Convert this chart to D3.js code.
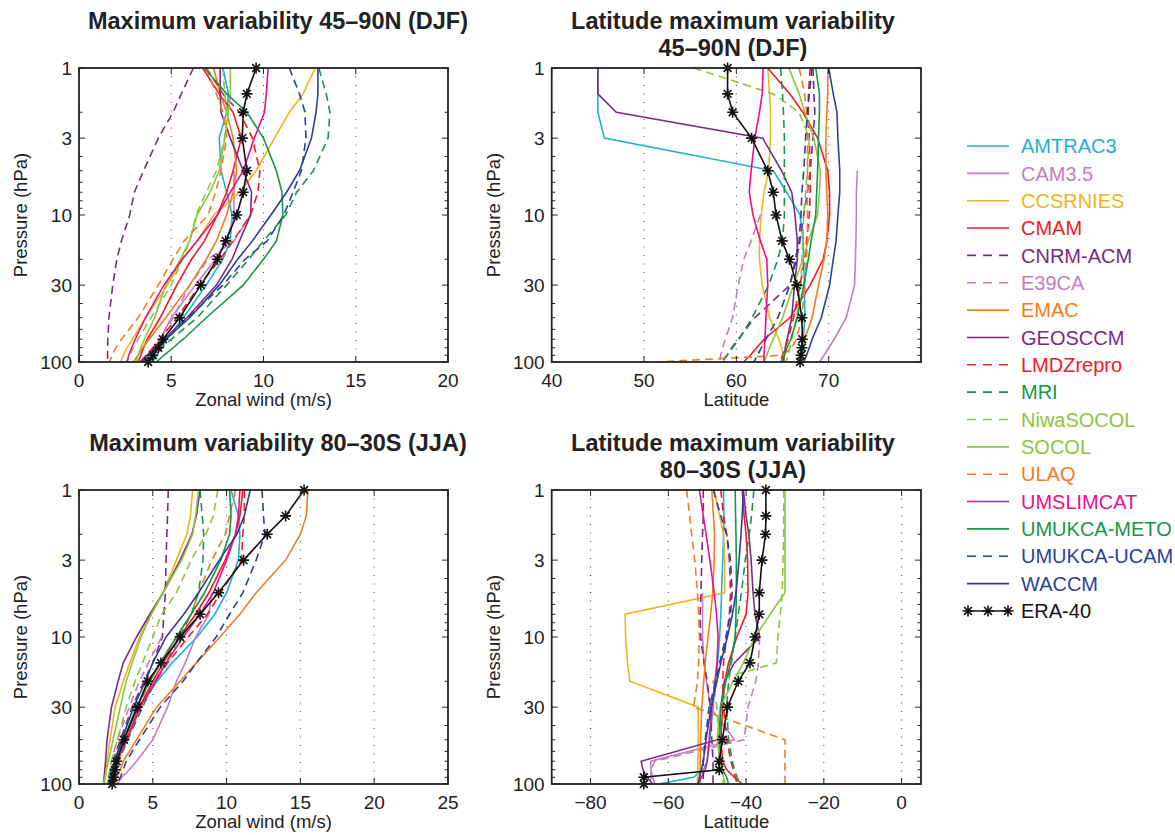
<!DOCTYPE html>
<html>
<head>
<meta charset="utf-8">
<script src="https://cdn.jsdelivr.net/npm/d3@7"></script>
<style>
  body { margin: 0; background: #fff; }
  text { font-family: "Liberation Sans", Arial, Helvetica, sans-serif; }
</style>
</head>
<body>
<svg></svg>
<script>
  // pressure levels (hPa), shared by every profile
  var levels = [1, 1.5, 2, 3, 5, 7, 10, 15, 20, 30, 50, 70, 80, 90, 100];

  var models = ['AMTRAC3', 'CAM3.5', 'CCSRNIES', 'CMAM', 'CNRM-ACM', 'E39CA', 'EMAC', 'GEOSCCM',
    'LMDZrepro', 'MRI', 'NiwaSOCOL', 'SOCOL', 'ULAQ', 'UMSLIMCAT', 'UMUKCA-METO', 'UMUKCA-UCAM', 'WACCM'];
  var modelColors = ['#1eb1d4', '#c57dbf', '#edb520', '#ed1c24', '#7b2a84', '#c57dbf', '#f47c20', '#7b2a84',
    '#ed1c24', '#17964a', '#8cc63e', '#8cc63e', '#f47c20', '#ec0f8c', '#17964a', '#2d3f98', '#2d3f98'];
  var modelDashed = [false, false, false, false, true, true, false, false,
    true, true, true, false, true, false, false, true, false];

  // max variability 45-90N (DJF), zonal wind m/s
  var windNH = {
    'AMTRAC3':     [7.8, 8.1, 8.0, 7.6, 7.7, 8.0, 8.3, 8.2, 7.8, 6.9, 5.65, 4.75, 4.45, 4.2, 4.0],
    'CAM3.5':      [null, null, null, null, 8.4, 8.4, 8.4, 8.0, 7.4, 6.3, 5.0, 4.4, 4.1, 3.9, 3.7],
    'CCSRNIES':    [12.8, 12.15, 11.4, 10.6, 9.6, 8.7, 7.3, 6.4, 5.6, 4.8, 3.6, 2.9, 2.6, 2.4, 2.25],
    'CMAM':        [6.7, 7.6, 8.35, 8.8, 8.35, 8.0, 7.5, 6.8, 6.1, 5.3, 4.4, 3.7, 3.5, 3.35, 3.2],
    'CNRM-ACM':    [6.2, 5.55, 5.1, 4.3, 3.5, 3.0, 2.75, 2.3, 2.05, 1.83, 1.62, 1.56, 1.55, 1.55, 1.55],
    'E39CA':       [null, null, null, null, null, null, 9.3, 8.4, 7.0, 6.0, 5.1, 4.4, 4.1, 3.9, 3.7],
    'EMAC':        [7.3, 7.65, 8.0, 8.35, 8.55, 8.35, 8.0, 7.45, 6.9, 6.0, 4.7, 3.8, 3.45, 3.2, 2.95],
    'GEOSCCM':     [7.65, 7.65, 7.7, 8.2, 8.9, 9.35, 9.3, 8.7, 8.3, 7.45, 5.85, 4.6, 4.1, 3.7, 3.3],
    'LMDZrepro':   [6.9, 7.8, 8.7, 9.4, 9.8, 9.7, 9.3, 8.35, 7.65, 6.55, 5.3, 4.4, 4.0, 3.65, 3.3],
    'MRI':         [13.0, 13.4, 13.6, 13.5, 12.7, 11.8, 11.2, 10.0, 9.2, 8.0, 6.4, 5.0, 4.5, 4.2, 3.9],
    'NiwaSOCOL':   [7.8, 7.9, 8.0, 7.9, 7.45, 6.9, 6.35, 6.0, 5.6, 5.0, 3.9, 3.2, 2.95, 2.75, 2.6],
    'SOCOL':       [8.2, 8.2, 8.1, 7.9, 7.6, 7.1, 6.4, 6.0, 5.5, 4.7, 4.1, 3.55, 3.35, 3.2, 3.1],
    'ULAQ':        [6.9, 7.45, 7.8, 8.0, 7.7, 7.4, 7.0, 5.7, 5.1, 4.3, 3.2, 2.3, 2.0, 1.8, 1.65],
    'UMSLIMCAT':   [10.25, 10.15, 10.05, 9.5, 8.9, 8.2, 7.5, 6.4, 5.6, 4.6, 3.6, 3.05, 2.85, 2.7, 2.6],
    'UMUKCA-METO': [6.8, 8.0, 9.1, 10.0, 10.7, 11.0, 11.05, 10.7, 10.0, 8.9, 6.9, 5.65, 5.1, 4.6, 4.2],
    'UMUKCA-UCAM': [11.4, 11.95, 12.25, 12.3, 12.05, 11.6, 11.1, 10.2, 9.0, 7.8, 5.9, 4.75, 4.25, 3.85, 3.5],
    'WACCM':       [12.95, 12.95, 12.85, 12.6, 11.95, 11.25, 10.4, 9.4, 8.6, 7.6, 6.0, 4.7, 4.2, 3.7, 3.4]
  };
  var eraWindNH = [9.6, 9.1, 8.9, 8.85, 9.1, 8.9, 8.55, 7.95, 7.5, 6.6, 5.45, 4.55, 4.3, 4.0, 3.75];

  // latitude of max variability 45-90N (DJF)
  var latNH = {
    'AMTRAC3':     [45.0, 45.0, 45.0, 45.7, 64.0, 65.45, 66.9, 67.25, 67.25, 67.4, 67.4, 67.25, 67.1, 67.0, 66.9],
    'CAM3.5':      [null, null, null, null, 73.1, 73.0, 73.0, 72.95, 72.9, 72.8, 71.9, 70.6, 70.0, 69.5, 69.0],
    'CCSRNIES':    [63.4, 63.6, 63.7, 63.7, 63.5, 63.0, 62.7, 62.5, 62.5, 62.8, 63.6, 64.6, 64.9, 65.1, 65.2],
    'CMAM':        [63.4, 65.8, 67.2, 68.8, 69.9, 70.1, 70.1, 69.8, 69.4, 68.0, 65.8, 63.0, 62.2, 61.5, 60.8],
    'CNRM-ACM':    [68.3, 68.4, 68.5, 68.3, 68.0, 67.7, 67.3, 66.9, 66.5, 65.8, 62.0, 60.2, 59.5, 59.0, 58.5],
    'E39CA':       [null, null, null, null, null, null, 62.6, 61.6, 60.8, 60.2, 59.6, 58.8, 58.5, 58.3, 58.2],
    'EMAC':        [69.9, 69.9, 69.8, 69.7, 69.7, 69.8, 69.9, 69.8, 69.5, 68.9, 68.2, 67.4, 67.2, 67.0, 66.8],
    'GEOSCCM':     [45.0, 45.0, 47.0, 62.85, 64.9, 66.0, 66.35, 66.6, 66.6, 66.3, 66.0, 65.5, 65.3, 65.2, 65.1],
    'LMDZrepro':   [68.0, 67.8, 67.8, 67.9, 68.0, 68.0, 67.9, 67.6, 67.4, 66.9, 66.2, 65.6, 65.3, 65.0, 64.7],
    'MRI':         [64.8, 65.0, 65.1, 65.2, 65.2, 65.2, 65.2, 65.0, 64.5, 63.5, 61.7, 60.3, 59.6, 59.0, 58.3],
    'NiwaSOCOL':   [55.4, 64.0, 66.8, 67.9, 67.7, 67.5, 67.3, 67.2, 67.1, 67.0, 66.5, 66.0, 65.8, 65.6, 65.4],
    'SOCOL':       [65.7, 66.8, 67.4, 68.4, 69.1, 69.0, 68.8, 67.8, 67.2, 66.2, 65.0, 64.0, 63.6, 63.3, 63.0],
    'ULAQ':        [66.8, 67.4, 67.6, 67.7, 67.7, 67.7, 67.7, 67.7, 67.6, 67.4, 67.1, 66.5, 66.0, 65.0, 51.5],
    'UMSLIMCAT':   [62.9, 62.8, 62.5, 62.0, 61.6, 61.4, 61.8, 62.6, 63.3, 63.4, 63.2, 63.1, 63.05, 63.0, 63.0],
    'UMUKCA-METO': [68.6, 69.0, 69.0, 68.9, 68.8, 68.7, 68.6, 68.1, 67.8, 67.3, 66.6, 65.9, 65.5, 65.2, 64.8],
    'UMUKCA-UCAM': [68.2, 67.9, 67.7, 67.5, 67.3, 67.1, 67.0, 66.8, 66.4, 65.8, 64.5, 63.2, 62.7, 62.3, 61.9],
    'WACCM':       [70.0, 70.5, 70.9, 71.0, 71.2, 71.2, 71.0, 70.8, 70.5, 70.1, 69.2, 68.2, 67.9, 67.6, 67.3]
  };
  var eraLatNH = [59.05, 59.05, 59.6, 61.65, 63.4, 64.0, 64.3, 64.95, 65.75, 66.55, 67.1, 67.15, 67.1, 67.0, 66.9];

  // max variability 80-30S (JJA), zonal wind m/s
  var windSH = {
    'AMTRAC3':     [10.3, 10.8, 10.9, 10.8, 10.0, 9.2, 8.0, 6.3, 5.3, 4.0, 3.0, 2.45, 2.3, 2.2, 2.1],
    'CAM3.5':      [null, null, null, null, 9.0, 8.8, 7.9, 7.2, 6.6, 6.0, 5.0, 3.9, 3.4, 2.9, 2.6],
    'CCSRNIES':    [7.7, 7.55, 7.3, 6.6, 5.7, 4.9, 4.1, 3.45, 3.0, 2.45, 2.1, 1.9, 1.85, 1.8, 1.7],
    'CMAM':        [11.1, 10.9, 10.6, 9.9, 8.8, 7.9, 6.8, 5.7, 5.0, 4.1, 3.2, 2.6, 2.5, 2.4, 2.3],
    'CNRM-ACM':    [6.05, 6.0, 5.95, 5.9, 5.85, 5.75, 5.65, 5.0, 4.4, 3.6, 2.8, 2.3, 2.2, 2.1, 2.0],
    'E39CA':       [null, null, null, null, null, null, 5.6, 4.7, 4.1, 3.4, 2.6, 2.2, 2.1, 2.0, 1.9],
    'EMAC':        [15.5, 15.4, 15.0, 14.0, 12.0, 10.9, 9.55, 7.95, 6.85, 5.25, 3.9, 3.0, 2.8, 2.55, 2.45],
    'GEOSCCM':     [8.2, 7.95, 7.65, 6.85, 5.7, 4.8, 3.9, 3.0, 2.65, 2.2, 1.9, 1.8, 1.75, 1.7, 1.65],
    'LMDZrepro':   [11.2, 11.2, 11.1, 11.0, 9.6, 8.7, 7.4, 6.0, 5.2, 4.2, 3.2, 2.6, 2.5, 2.4, 2.3],
    'MRI':         [8.2, 8.35, 8.45, 8.4, 8.1, 7.6, 6.8, 5.9, 5.2, 4.3, 3.3, 2.7, 2.5, 2.35, 2.2],
    'NiwaSOCOL':   [9.4, 9.1, 8.6, 7.6, 6.6, 5.6, 5.0, 4.3, 3.8, 3.2, 2.6, 2.2, 2.1, 2.0, 1.9],
    'SOCOL':       [8.1, 7.9, 7.7, 6.95, 5.7, 4.9, 4.2, 3.6, 3.2, 2.8, 2.3, 2.0, 1.85, 1.75, 1.65],
    'ULAQ':        [10.6, 10.2, 9.9, 9.0, 8.1, 7.6, 6.6, 5.5, 4.8, 4.0, 3.1, 2.5, 2.4, 2.3, 2.2],
    'UMSLIMCAT':   [10.9, 10.8, 10.6, 10.0, 9.1, 8.2, 7.05, 5.9, 5.15, 4.15, 3.25, 2.55, 2.45, 2.35, 2.2],
    'UMUKCA-METO': [10.2, 10.3, 10.2, 9.6, 8.5, 7.6, 6.6, 5.5, 4.8, 3.9, 3.0, 2.4, 2.2, 2.1, 2.0],
    'UMUKCA-UCAM': [12.4, 12.5, 12.6, 12.0, 11.1, 10.2, 9.3, 7.95, 7.05, 5.5, 4.1, 3.2, 3.0, 2.8, 2.55],
    'WACCM':       [11.6, 11.2, 10.7, 9.5, 8.1, 7.1, 5.9, 5.0, 4.5, 3.7, 2.9, 2.4, 2.3, 2.2, 2.1]
  };
  var eraWindSH = [15.25, 14.0, 12.75, 11.15, 9.45, 8.2, 6.85, 5.55, 4.65, 3.95, 3.05, 2.55, 2.45, 2.35, 2.25];

  // latitude of max variability 80-30S (JJA)
  var latSH = {
    'AMTRAC3':     [-45.8, -45.7, -45.8, -46.0, -46.3, -46.5, -46.8, -47.3, -47.8, -48.5, -49.3, -50.0, -51.0, -53.5, -62.5],
    'CAM3.5':      [null, null, null, null, -51.2, -51.2, -51.2, -50.8, -50.2, -49.2, -43.0, -64.5, -64.5, -64.0, -63.5],
    'CCSRNIES':    [-48.2, -46.8, -45.8, -45.5, -45.5, -71.1, -71.0, -70.5, -69.9, -52.3, -52.3, -52.4, -52.4, -52.5, -52.5],
    'CMAM':        [-41.0, -40.5, -40.0, -39.6, -39.5, -40.0, -42.4, -44.5, -45.5, -46.0, -46.5, -46.0, -45.0, -43.0, -41.0],
    'CNRM-ACM':    [-51.0, -51.0, -51.2, -51.4, -51.6, -51.8, -51.7, -50.8, -50.0, -49.2, -48.8, -48.5, -48.5, -48.5, -48.5],
    'E39CA':       [null, null, null, null, null, null, -36.5, -36.8, -37.5, -39.5, -40.5, -63.5, -64.5, -64.5, -64.5],
    'EMAC':        [-48.8, -48.4, -48.1, -48.2, -48.6, -49.1, -49.8, -50.5, -50.9, -51.4, -51.7, -51.8, -51.8, -51.8, -51.8],
    'GEOSCCM':     [-40.7, -40.0, -39.3, -38.7, -38.2, -37.7, -36.5, -43.0, -45.6, -46.5, -47.3, -67.0, -66.5, -65.5, -64.0],
    'LMDZrepro':   [-46.5, -45.8, -45.0, -44.3, -44.0, -44.3, -45.0, -45.8, -46.0, -45.8, -45.0, -43.9, -43.3, -42.8, -42.2],
    'MRI':         [-38.0, -38.6, -39.2, -40.2, -41.2, -42.0, -42.8, -43.8, -44.5, -45.0, -44.5, -43.5, -43.0, -42.3, -41.5],
    'NiwaSOCOL':   [-30.3, -30.3, -30.3, -30.5, -30.7, -31.2, -31.8, -32.2, -48.5, -47.5, -47.0, -46.5, -46.3, -46.0, -45.8],
    'SOCOL':       [-30.0, -30.0, -30.0, -30.0, -30.0, -33.8, -37.7, -40.7, -43.3, -46.7, -47.5, -46.7, -46.3, -45.8, -45.4],
    'ULAQ':        [-55.3, -54.5, -54.0, -53.2, -52.5, -52.2, -52.0, -52.2, -52.5, -53.5, -30.0, -30.0, -30.0, -30.0, -30.0],
    'UMSLIMCAT':   [-52.0, -51.0, -50.3, -49.3, -48.2, -47.6, -47.2, -47.5, -48.0, -48.8, -49.5, -50.0, -50.5, -51.5, -52.5],
    'UMUKCA-METO': [-42.8, -42.7, -42.6, -42.5, -42.5, -42.6, -42.8, -44.0, -45.2, -46.5, -46.8, -46.5, -46.0, -45.0, -44.5],
    'UMUKCA-UCAM': [-48.4, -46.5, -45.0, -44.0, -43.6, -44.0, -45.2, -46.8, -47.8, -49.5, -50.5, -51.0, -51.0, -51.0, -51.0],
    'WACCM':       [-40.7, -41.0, -41.3, -41.8, -42.6, -43.5, -44.8, -46.5, -47.5, -49.0, -50.3, -51.0, -51.5, -52.0, -52.3]
  };
  var eraLatSH = [-34.9, -34.9, -35.0, -35.9, -36.6, -36.6, -37.7, -39.0, -42.0, -44.8, -46.1, -46.9, -46.9, -66.3, -66.3];

  var pressureTicks = [1, 3, 10, 30, 100];

  var width = 1175;
  var height = 835;
  var svg = d3.select('svg')
    .attr('width', width)
    .attr('height', height)
    ;

  var panels = [
    { data: windNH, era: eraWindNH, x0: 79, x1: 448, y0: 68, y1: 362, domain: [0, 20],
      ticks: [0, 5, 10, 15, 20], grid: [5, 10, 15], xlabel: 'Zonal wind (m/s)', titleX: 278,
      title: ['Maximum variability 45\u201390N (DJF)'] },
    { data: latNH, era: eraLatNH, x0: 551.7, x1: 921, y0: 68, y1: 362, domain: [40, 80],
      ticks: [40, 50, 60, 70], grid: [50, 60, 70], xlabel: 'Latitude', titleX: 733,
      title: ['Latitude maximum variability', '45\u201390N (DJF)'] },
    { data: windSH, era: eraWindSH, x0: 79, x1: 448, y0: 490, y1: 784, domain: [0, 25],
      ticks: [0, 5, 10, 15, 20, 25], grid: [5, 10, 15, 20], xlabel: 'Zonal wind (m/s)', titleX: 278,
      title: ['Maximum variability 80\u201330S (JJA)'] },
    { data: latSH, era: eraLatSH, x0: 551.7, x1: 921, y0: 490, y1: 784, domain: [-90, 5],
      ticks: [-80, -60, -40, -20, 0], grid: [-80, -60, -40, -20, 0], xlabel: 'Latitude', titleX: 733,
      title: ['Latitude maximum variability', '80\u201330S (JJA)'] }
  ];

  var starPath = 'M-5.5,0L5.5,0M0,-5.5L0,5.5M-3.9,-3.9L3.9,3.9M-3.9,3.9L3.9,-3.9';
  var dash = '8,5';

  panels.forEach(function (p, pi) {
    var x = d3.scaleLinear().domain(p.domain).range([p.x0, p.x1]);
    var y = d3.scaleLog().domain([1, 100]).range([p.y0, p.y1]);
    var g = svg.append('g');

    g.append('clipPath')
      .attr('id', 'clip' + pi)
      .append('rect')
      .attr('x', p.x0)
      .attr('y', p.y0 - 8)
      .attr('width', p.x1 - p.x0)
      .attr('height', p.y1 - p.y0 + 16);

    // dotted grid
    g.selectAll('.grid')
      .data(p.grid)
      .enter()
      .append('line')
      .attr('x1', function (d) { return x(d); })
      .attr('x2', function (d) { return x(d); })
      .attr('y1', p.y0)
      .attr('y2', p.y1)
      .attr('stroke', '#444')
      .attr('stroke-width', 1)
      .attr('stroke-dasharray', '1,7.5');

    // model profiles
    var line = d3.line()
      .defined(function (d) { return d.v !== null; })
      .x(function (d) { return x(d.v); })
      .y(function (d) { return y(d.p); });

    var lines = g.append('g').attr('clip-path', 'url(#clip' + pi + ')');
    models.forEach(function (m, mi) {
      var pts = p.data[m].map(function (v, i) { return { p: levels[i], v: v }; });
      lines.append('path')
        .attr('d', line(pts))
        .attr('fill', 'none')
        .attr('stroke', modelColors[mi])
        .attr('stroke-width', 1.6)
        .attr('stroke-dasharray', modelDashed[mi] ? dash : null);
    });

    // ERA-40
    var eraPts = p.era.map(function (v, i) { return { p: levels[i], v: v }; });
    g.append('path')
      .attr('d', line(eraPts))
      .attr('fill', 'none')
      .attr('stroke', '#111')
      .attr('stroke-width', 1.6);
    g.selectAll('.star')
      .data(eraPts)
      .enter()
      .append('path')
      .attr('transform', function (d) { return 'translate(' + x(d.v) + ',' + y(d.p) + ')'; })
      .attr('d', starPath)
      .attr('stroke', '#111')
      .attr('stroke-width', 1.6);

    // box
    g.append('rect')
      .attr('x', p.x0)
      .attr('y', p.y0)
      .attr('width', p.x1 - p.x0)
      .attr('height', p.y1 - p.y0)
      .attr('fill', 'none')
      .attr('stroke', '#222')
      .attr('stroke-width', 1.8);

    // x ticks (inside, top and bottom)
    p.ticks.forEach(function (t) {
      g.append('line').attr('x1', x(t)).attr('x2', x(t)).attr('y1', p.y1).attr('y2', p.y1 - 6)
        .attr('stroke', '#222').attr('stroke-width', 1);
      g.append('line').attr('x1', x(t)).attr('x2', x(t)).attr('y1', p.y0).attr('y2', p.y0 + 6)
        .attr('stroke', '#222').attr('stroke-width', 1);
    });
    g.selectAll('.xlab')
      .data(p.ticks)
      .enter()
      .append('text')
      .attr('x', function (d) { return x(d); })
      .attr('y', p.y1 + 25)
      .attr('text-anchor', 'middle')
      .attr('font-size', 19)
      .attr('fill', '#222')
      .text(function (d) { return d < 0 ? '\u2212' + Math.abs(d) : d; });

    // log y ticks, major and minor, on both sides
    var yTicks = y.ticks();
    yTicks.forEach(function (t) {
      var len = pressureTicks.indexOf(t) >= 0 ? 6 : 3.5;
      g.append('line').attr('x1', p.x0).attr('x2', p.x0 + len).attr('y1', y(t)).attr('y2', y(t))
        .attr('stroke', '#222').attr('stroke-width', 1);
      g.append('line').attr('x1', p.x1).attr('x2', p.x1 - len).attr('y1', y(t)).attr('y2', y(t))
        .attr('stroke', '#222').attr('stroke-width', 1);
    });
    g.selectAll('.ylab')
      .data(pressureTicks)
      .enter()
      .append('text')
      .attr('x', p.x0 - 7)
      .attr('y', function (d) { return y(d); })
      .attr('dy', '0.36em')
      .attr('text-anchor', 'end')
      .attr('font-size', 19)
      .attr('fill', '#222')
      .text(function (d) { return d; });

    // axis labels
    g.append('text')
      .attr('x', (p.x0 + p.x1) / 2)
      .attr('y', p.y1 + 44)
      .attr('text-anchor', 'middle')
      .attr('font-size', 18.5)
      .attr('fill', '#222')
      .text(p.xlabel);
    g.append('text')
      .attr('transform', 'translate(' + (p.x0 - 52) + ',' + ((p.y0 + p.y1) / 2) + ') rotate(-90)')
      .attr('text-anchor', 'middle')
      .attr('font-size', 18.5)
      .attr('fill', '#222')
      .text('Pressure (hPa)');

    // title
    p.title.forEach(function (t, i) {
      g.append('text')
        .attr('x', p.titleX)
        .attr('y', p.y0 - 39 + i * 27)
        .attr('text-anchor', 'middle')
        .attr('font-size', 23.5)
        .attr('font-weight', 'bold')
        .attr('fill', '#222')
        .text(t);
    });
  });

  // legend
  var legendNames = models.concat(['ERA-40']);
  var legend = svg.append('g');
  var rowY = d3.scaleLinear().domain([0, 1]).range([146, 173.35]);
  legendNames.forEach(function (name, i) {
    var isEra = name === 'ERA-40';
    var color = isEra ? '#111' : modelColors[i];
    var cy = rowY(i);
    legend.append('line')
      .attr('x1', 967)
      .attr('x2', 1009)
      .attr('y1', cy)
      .attr('y2', cy)
      .attr('stroke', color)
      .attr('stroke-width', 1.6)
      .attr('stroke-dasharray', !isEra && modelDashed[i] ? '9,7' : null);
    if (isEra) {
      [968, 988, 1008].forEach(function (sx) {
        legend.append('path')
          .attr('transform', 'translate(' + sx + ',' + cy + ')')
          .attr('d', starPath)
          .attr('stroke', '#111')
          .attr('stroke-width', 1.6);
      });
    }
    legend.append('text')
      .attr('x', 1021)
      .attr('y', cy)
      .attr('dy', '0.36em')
      .attr('font-size', 20)
      .attr('fill', color)
      .text(name);
  });
</script>
</body>
</html>
